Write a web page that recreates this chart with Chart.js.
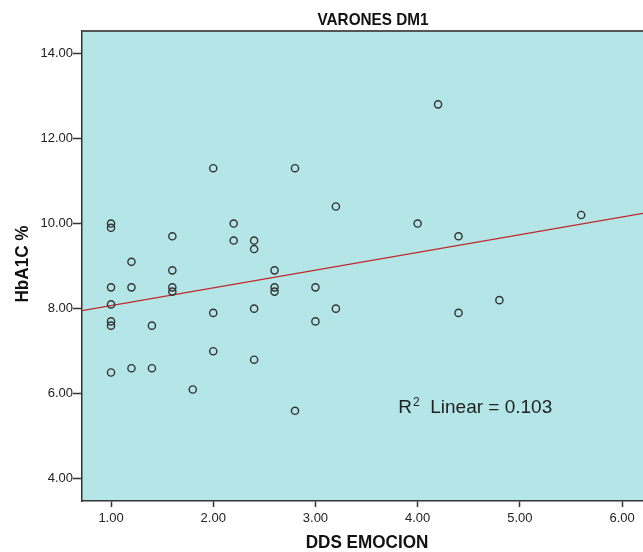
<!DOCTYPE html>
<html>
<head>
<meta charset="utf-8">
<title>VARONES DM1</title>
<script src="https://cdn.jsdelivr.net/npm/chart.js@4.4.4/dist/chart.umd.min.js"></script>
<style>
  html, body { margin: 0; padding: 0; background: #fff; }
  canvas { display: block; }
</style>
</head>
<body>
<canvas id="chart" width="643" height="552"></canvas>
<script>
// data
const xTicks = [1, 2, 3, 4, 5, 6]
const yTicks = [4, 6, 8, 10, 12, 14]

const ddsEmocion = [
  1, 1, 1, 1, 1, 1, 1,
  1.2, 1.2, 1.2,
  1.4, 1.4,
  1.6, 1.6, 1.6, 1.6,
  1.8,
  2, 2, 2,
  2.2, 2.2,
  2.4, 2.4, 2.4, 2.4,
  2.6, 2.6, 2.6,
  2.8, 2.8,
  3, 3,
  3.2, 3.2,
  4, 4.2, 4.4, 4.4, 4.8, 5.6
]
const hba1c = [
  10, 9.9, 8.5, 8.1, 7.7, 7.6, 6.5,
  9.1, 8.5, 6.6,
  7.6, 6.6,
  9.7, 8.9, 8.5, 8.4,
  6.1,
  11.3, 7.9, 7.0,
  10, 9.6,
  9.6, 9.4, 8.0, 6.8,
  8.9, 8.5, 8.4,
  11.3, 5.6,
  8.5, 7.7,
  10.4, 8.0,
  10.0, 12.8, 9.7, 7.9, 8.2, 10.2
]

// fit line end points (as drawn in the reference)
const fitX = [0.716, 6.205]
const fitY = [7.955, 10.24]
const r2Value = "0.103"

const titleText = "VARONES DM1"
const xTitle = "DDS EMOCION"
const yTitle = "HbA1C %"

const sans = '"Liberation Sans", Arial, sans-serif'

// plot background + top frame line
const plotFrame = {
  id: "plotFrame",
  beforeDraw(chart) {
    const {ctx, chartArea: a} = chart
    ctx.save()
    ctx.fillStyle = "#b4e6e7"
    ctx.fillRect(a.left, a.top, a.right - a.left, a.bottom - a.top)
    ctx.restore()
  },
  afterDraw(chart) {
    const {ctx, chartArea: a} = chart
    ctx.save()
    ctx.strokeStyle = "#555"
    ctx.lineWidth = 2
    ctx.beginPath()
    ctx.moveTo(a.left, a.top)
    ctx.lineTo(a.right, a.top)
    ctx.stroke()
    ctx.restore()
  }
}

// condensed bold text, like the narrow face in the reference
function narrowText(ctx, text, x, y, size, rot) {
  ctx.save()
  ctx.translate(x, y)
  if (rot) ctx.rotate(rot)
  ctx.scale(0.9, 1)
  ctx.font = "bold " + size + "px " + sans
  ctx.textAlign = "center"
  ctx.textBaseline = "middle"
  ctx.fillText(text, 0, 0)
  ctx.restore()
}

// titles and R² annotation
const labels = {
  id: "labels",
  afterDraw(chart) {
    const {ctx, chartArea: a} = chart
    const xs = chart.scales.x, ys = chart.scales.y
    ctx.save()
    ctx.fillStyle = "#111"
    narrowText(ctx, titleText, 373, 20, 17)
    narrowText(ctx, xTitle, 367, 543, 19)
    narrowText(ctx, yTitle, 23, (a.top + a.bottom) / 2 - 2, 19, -Math.PI / 2)

    // R² Linear = ...
    const px = xs.getPixelForValue(3.81)
    const py = ys.getPixelForValue(5.55)
    ctx.fillStyle = "#222"
    ctx.textAlign = "left"
    ctx.textBaseline = "alphabetic"
    ctx.font = "19px " + sans
    ctx.fillText("R", px, py)
    const rw = ctx.measureText("R").width
    ctx.font = "12px " + sans
    ctx.fillText("2", px + rw + 1, py - 7)
    ctx.font = "19px " + sans
    ctx.fillText("Linear = " + r2Value, px + 32, py)
    ctx.restore()
  }
}

const ctx = document.getElementById("chart").getContext("2d")

new Chart(ctx, {
  type: "scatter",
  data: {
    datasets: [
      {
        label: "HbA1C",
        data: ddsEmocion.map((x, i) => ({x: x, y: hba1c[i]})),
        pointStyle: "circle",
        pointRadius: 3.6,
        pointBorderWidth: 1.4,
        borderColor: "#333",
        backgroundColor: "rgba(0,0,0,0)",
        pointHoverRadius: 3.6
      },
      {
        label: "Linear",
        type: "line",
        data: fitX.map((x, i) => ({x: x, y: fitY[i]})),
        borderColor: "#c0272d",
        borderWidth: 1.2,
        pointRadius: 0,
        fill: false
      }
    ]
  },
  options: {
    responsive: false,
    animation: false,
    events: [],
    layout: { autoPadding: false, padding: { top: 31, right: 0, bottom: 0, left: 0 } },
    plugins: {
      legend: { display: false },
      tooltip: { enabled: false },
      title: { display: false }
    },
    scales: {
      x: {
        type: "linear",
        min: 0.716,
        max: 6.205,
        afterFit: (s) => {
          s.height = 51
          s.paddingLeft = 0
          s.paddingRight = 0
        },
        afterBuildTicks: (s) => { s.ticks = xTicks.map(v => ({value: v})) },
        ticks: {
          color: "#222",
          font: { family: sans, size: 13 },
          padding: 4,
          callback: (v) => Number(v).toFixed(2)
        },
        grid: {
          display: true,
          drawOnChartArea: false,
          drawTicks: true,
          tickLength: 6,
          tickColor: "#333",
          tickWidth: 1.5
        },
        border: { display: true, color: "#333", width: 1.5 }
      },
      y: {
        type: "linear",
        min: 3.48,
        max: 14.524,
        afterFit: (s) => {
          s.width = 82
          s.paddingTop = 0
          s.paddingBottom = 0
        },
        afterBuildTicks: (s) => { s.ticks = yTicks.map(v => ({value: v})) },
        ticks: {
          color: "#222",
          font: { family: sans, size: 13 },
          padding: 0,
          callback: (v) => Number(v).toFixed(2)
        },
        grid: {
          display: true,
          drawOnChartArea: false,
          drawTicks: true,
          tickLength: 9,
          tickColor: "#333",
          tickWidth: 1.5
        },
        border: { display: true, color: "#333", width: 1.5 }
      }
    }
  },
  plugins: [plotFrame, labels]
})
</script>
</body>
</html>
